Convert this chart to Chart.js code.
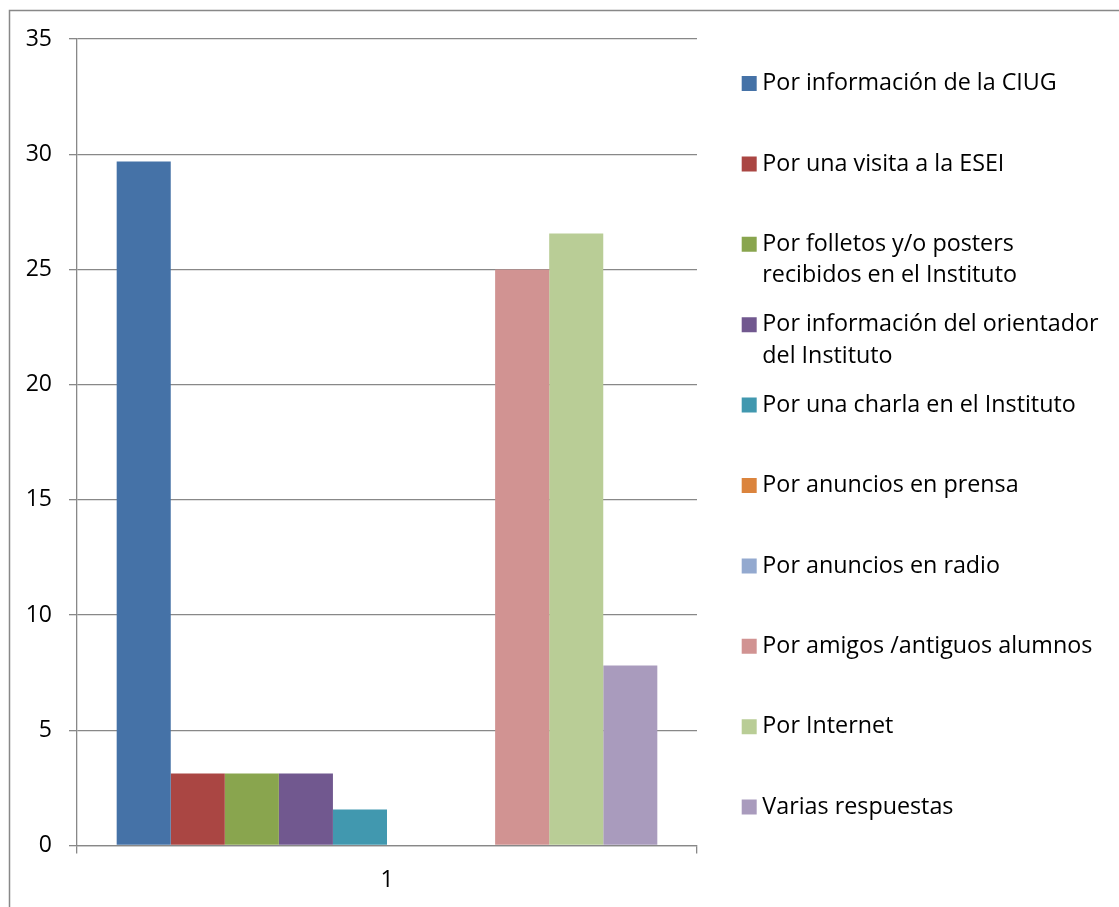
<!DOCTYPE html>
<html>
<head>
<meta charset="utf-8">
<script src="https://cdn.jsdelivr.net/npm/chart.js@4.4.1/dist/chart.umd.min.js"></script>
<style>
html,body{margin:0;padding:0;background:#ffffff;}
canvas{display:block;}
</style>
</head>
<body>
<canvas id="c" width="1119" height="907"></canvas>
<script>
// ---------------- data ----------------
const categories = ['1'];
const seriesNames = [
  'Por información de la CIUG',
  'Por una visita a la ESEI',
  'Por folletos y/o posters recibidos en el Instituto',
  'Por información del orientador del Instituto',
  'Por una charla en el Instituto',
  'Por anuncios en prensa',
  'Por anuncios en radio',
  'Por amigos /antiguos alumnos',
  'Por Internet',
  'Varias respuestas'
];
const seriesValues = [29.6875, 3.125, 3.125, 3.125, 1.5625, 0, 0, 25, 26.5625, 7.8125];
const yTickValues = [0, 5, 10, 15, 20, 25, 30, 35];

// ---------------- styles / layout ----------------
const seriesColors = ['#4572A7','#AA4643','#89A54E','#71588F','#4198AF','#DB843D','#93A9CF','#D19392','#B9CD96','#A99BBD'];
const FAMILY = "'Open Sans', 'Noto Sans', sans-serif";
const GRID = '#888888';
const LEGEND_FONT_SIZE = 23.3;
const LEGEND_WRAP = 347;
const LEGEND_PAD = 17.4;
const LEGEND_BOXW = 3;
const LEGEND_LEFT = 730.3;   // left edge of legend block
const CANVAS_W = 1119;

const measureCtx = document.createElement('canvas').getContext('2d');
measureCtx.font = LEGEND_FONT_SIZE + 'px ' + FAMILY;

function wrapText(text, maxW) {
  const words = text.split(' ');
  const lines = [];
  let cur = '';
  for (const w of words) {
    const t = cur ? cur + ' ' + w : w;
    if (cur && measureCtx.measureText(t).width > maxW) { lines.push(cur); cur = w; }
    else cur = t;
  }
  lines.push(cur);
  while (lines.length < 2) lines.push('');
  return lines;
}

const wrapped = seriesNames.map(n => wrapText(n, LEGEND_WRAP));
let maxTextW = 0;
wrapped.forEach(lines => lines.forEach(l => { maxTextW = Math.max(maxTextW, measureCtx.measureText(l).width); }));
const legendWidth = Math.ceil(LEGEND_PAD + LEGEND_BOXW + LEGEND_FONT_SIZE / 2 + maxTextW + 4);
const rightPadding = Math.max(0, CANVAS_W - LEGEND_LEFT - legendWidth);

const framePlugin = {
  id: 'frame',
  beforeDraw(chart) {
    const ctx = chart.ctx;
    ctx.save();
    ctx.fillStyle = '#ffffff';
    ctx.fillRect(0, 0, chart.width, chart.height);
    ctx.strokeStyle = '#888888';
    ctx.lineWidth = 1.5;
    ctx.beginPath();
    ctx.moveTo(9.5, chart.height + 2);
    ctx.lineTo(9.5, 10.5);
    ctx.lineTo(chart.width + 2, 10.5);
    ctx.stroke();
    ctx.restore();
  }
};

const datasets = seriesNames.map((name, i) => ({
  label: name,
  data: [seriesValues[i]],
  backgroundColor: seriesColors[i],
  borderWidth: 0,
  categoryPercentage: 0.872,
  barPercentage: 1.0
}));

new Chart(document.getElementById('c'), {
  type: 'bar',
  data: { labels: categories, datasets },
  plugins: [framePlugin],
  options: {
    responsive: false,
    animation: false,
    events: [],
    layout: { padding: { top: 39, right: rightPadding, bottom: 0, left: 0 } },
    plugins: {
      tooltip: { enabled: false },
      legend: {
        display: true,
        position: 'right',
        align: 'start',
        maxWidth: legendWidth,
        title: { display: true, text: ' ', font: { size: 10, lineHeight: '15.45px' }, padding: 0 },
        labels: {
          usePointStyle: true,
          pointStyle: 'rect',
          boxWidth: LEGEND_BOXW,
          boxHeight: 15,
          padding: LEGEND_PAD,
          color: '#000000',
          font: { family: FAMILY, size: LEGEND_FONT_SIZE, lineHeight: '31.5px' },
          generateLabels(chart) {
            const items = Chart.defaults.plugins.legend.labels.generateLabels(chart);
            items.forEach((it, i) => {
              it.text = wrapped[i];
              it.lineWidth = 0;
            });
            return items;
          }
        }
      }
    },
    scales: {
      x: {
        type: 'category',
        offset: true,
        grid: { display: true, offset: true, drawOnChartArea: false, drawTicks: true, tickLength: 8, color: GRID, lineWidth: 1.3 },
        border: { display: true, color: GRID, width: 1.3 },
        ticks: { color: '#000000', font: { family: FAMILY, size: 23 }, padding: 12.7, maxRotation: 0 },
        afterFit(s) { s.height = 61.5; }
      },
      y: {
        type: 'linear',
        min: yTickValues[0],
        max: yTickValues[yTickValues.length - 1],
        afterBuildTicks(s) { s.ticks = yTickValues.map(v => ({ value: v })); },
        grid: { color: GRID, lineWidth: 1.3, tickLength: 8, drawTicks: true },
        border: { display: true, color: GRID, width: 1.3 },
        ticks: { color: '#000000', font: { family: FAMILY, size: 23 }, padding: 17 },
        afterFit(s) { s.width = 77; }
      },
      pad: {
        type: 'linear',
        position: 'right',
        display: true,
        grid: { display: false, drawTicks: false },
        border: { display: false },
        ticks: { display: false },
        afterFit(s) { s.width = 33.3; }
      }
    }
  }
});
</script>
</body>
</html>
